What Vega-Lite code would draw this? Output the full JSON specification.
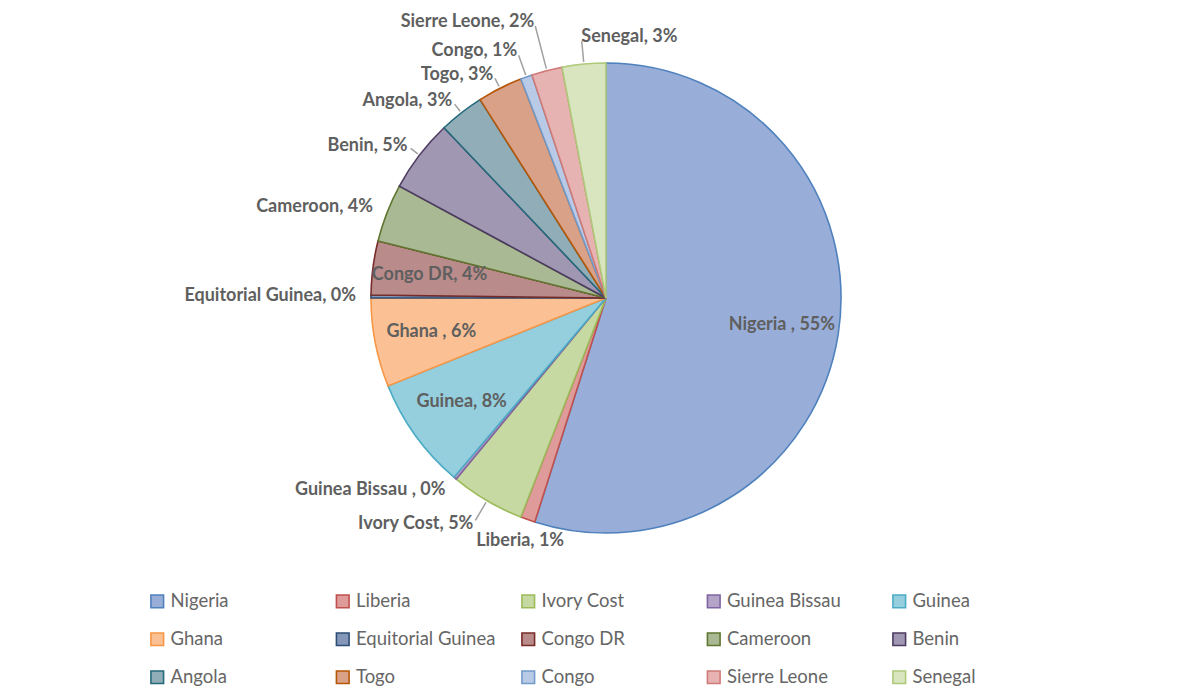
{
  "$schema": "https://vega.github.io/schema/vega-lite/v6.json",
  "autosize": {"type": "none"},
  "width": 1166,
  "height": 596,
  "padding": {"left": 23, "top": 0, "right": 0, "bottom": 101},
  "background": "white",
  "config": {
    "view": {"stroke": null},
    "font": "Lato",
    "legend": {
      "orient": "none",
      "legendX": 125,
      "legendY": 592,
      "direction": "horizontal",
      "columns": 5,
      "gridAlign": "all",
      "columnPadding": 22.5,
      "rowPadding": 18,
      "padding": 0,
      "symbolType": "square",
      "symbolSize": 160,
      "symbolStrokeWidth": 1.6,
      "labelFont": "Lato",
      "labelFontSize": 18.5,
      "labelColor": "#666666",
      "labelLimit": 300,
      "labelOffset": 4
    }
  },
  "data": {
    "values": [
      {"i": 1, "country": "Nigeria", "pct": 54.9, "label": "Nigeria , 55%"},
      {"i": 2, "country": "Liberia", "pct": 1.0, "label": "Liberia, 1%"},
      {"i": 3, "country": "Ivory Cost", "pct": 5.1, "label": "Ivory Cost, 5%"},
      {"i": 4, "country": "Guinea Bissau", "pct": 0.2, "label": "Guinea Bissau  , 0%"},
      {"i": 5, "country": "Guinea", "pct": 7.7, "label": "Guinea, 8%"},
      {"i": 6, "country": "Ghana", "pct": 6.1, "label": "Ghana , 6%"},
      {"i": 7, "country": "Equitorial Guinea", "pct": 0.2, "label": "Equitorial Guinea, 0%"},
      {"i": 8, "country": "Congo DR", "pct": 3.7, "label": "Congo DR, 4%"},
      {"i": 9, "country": "Cameroon", "pct": 4.0, "label": "Cameroon, 4%"},
      {"i": 10, "country": "Benin", "pct": 5.0, "label": "Benin, 5%"},
      {"i": 11, "country": "Angola", "pct": 3.1, "label": "Angola, 3%"},
      {"i": 12, "country": "Togo", "pct": 3.1, "label": "Togo, 3%"},
      {"i": 13, "country": "Congo", "pct": 0.8, "label": "Congo, 1%"},
      {"i": 14, "country": "Sierre Leone", "pct": 2.1, "label": "Sierre Leone, 2%"},
      {"i": 15, "country": "Senegal", "pct": 3.0, "label": "Senegal, 3%"}
    ]
  },
  "transform": [
    {"window": [{"op": "sum", "field": "pct", "as": "cum"}], "sort": [{"field": "i", "order": "ascending"}]},
    {"calculate": "datum.cum - datum.pct", "as": "start"},
    {"calculate": "datum.cum - datum.pct / 2", "as": "mid"}
  ],
  "layer": [
    {
      "mark": {"type": "arc", "outerRadius": 235, "strokeWidth": 1.6},
      "encoding": {
        "theta": {"field": "start", "type": "quantitative", "stack": null, "scale": {"domain": [0, 100]}},
        "theta2": {"field": "cum"},
        "fill": {
          "field": "country", "type": "nominal", "title": null,
          "scale": {
            "domain": ["Nigeria","Liberia","Ivory Cost","Guinea Bissau","Guinea","Ghana","Equitorial Guinea","Congo DR","Cameroon","Benin","Angola","Togo","Congo","Sierre Leone","Senegal"],
            "range": ["#98aed8","#de9b99","#c7d9a2","#b4a4c8","#95cedd","#fbc194","#8497b8","#b98c8b","#a9b994","#a098b2","#90adb8","#d9a288","#b9cae6","#e7b3b2","#d8e5bf"]
          }
        },
        "stroke": {
          "field": "country", "type": "nominal", "title": null,
          "scale": {
            "domain": ["Nigeria","Liberia","Ivory Cost","Guinea Bissau","Guinea","Ghana","Equitorial Guinea","Congo DR","Cameroon","Benin","Angola","Togo","Congo","Sierre Leone","Senegal"],
            "range": ["#4f81bd","#c0504d","#9bbb59","#8064a2","#4bacc6","#f79646","#2c4d75","#772c2a","#5f7530","#4d3b62","#276a7c","#b65708","#729aca","#d07a78","#afc97a"]
          }
        }
      }
    },
    {
      "transform": [{"filter": {"field": "country", "oneOf": ["Togo", "Angola", "Benin"]}}],
      "mark": {"type": "arc", "radius": 237, "radius2": 246, "stroke": "#a0a0a0", "strokeWidth": 1.5, "fillOpacity": 0},
      "encoding": {
        "theta": {"field": "mid", "type": "quantitative", "stack": null, "scale": {"domain": [0, 100]}},
        "theta2": {"field": "mid"}
      }
    },
    {
      "transform": [{"filter": {"field": "country", "oneOf": ["Congo", "Senegal", "Ivory Cost"]}}],
      "mark": {"type": "arc", "radius": 237, "radius2": 258, "stroke": "#a0a0a0", "strokeWidth": 1.5, "fillOpacity": 0},
      "encoding": {
        "theta": {"field": "mid", "type": "quantitative", "stack": null, "scale": {"domain": [0, 100]}},
        "theta2": {"field": "mid"}
      }
    },
    {
      "transform": [{"filter": {"field": "country", "oneOf": ["Sierre Leone"]}}],
      "mark": {"type": "arc", "radius": 237, "radius2": 281, "stroke": "#a0a0a0", "strokeWidth": 1.5, "fillOpacity": 0},
      "encoding": {
        "theta": {"field": "mid", "type": "quantitative", "stack": null, "scale": {"domain": [0, 100]}},
        "theta2": {"field": "mid"}
      }
    },
    {
      "transform": [{"filter": {"field": "country", "oneOf": ["Togo", "Angola", "Benin", "Cameroon", "Equitorial Guinea", "Guinea Bissau"]}}],
      "mark": {"type": "text", "radius": 250, "align": "right", "baseline": "middle", "font": "Lato", "fontSize": 18, "fontWeight": "bold", "fill": "#5f5f5f"},
      "encoding": {
        "theta": {"field": "mid", "type": "quantitative", "stack": null, "scale": {"domain": [0, 100]}},
        "text": {"field": "label"}
      }
    },
    {
      "transform": [{"filter": {"field": "country", "oneOf": ["Congo", "Ivory Cost"]}}],
      "mark": {"type": "text", "radius": 262, "align": "right", "baseline": "middle", "font": "Lato", "fontSize": 18, "fontWeight": "bold", "fill": "#5f5f5f"},
      "encoding": {
        "theta": {"field": "mid", "type": "quantitative", "stack": null, "scale": {"domain": [0, 100]}},
        "text": {"field": "label"}
      }
    },
    {
      "transform": [{"filter": {"field": "country", "oneOf": ["Sierre Leone"]}}],
      "mark": {"type": "text", "radius": 285, "align": "right", "baseline": "middle", "font": "Lato", "fontSize": 18, "fontWeight": "bold", "fill": "#5f5f5f"},
      "encoding": {
        "theta": {"field": "mid", "type": "quantitative", "stack": null, "scale": {"domain": [0, 100]}},
        "text": {"field": "label"}
      }
    },
    {
      "transform": [{"filter": {"field": "country", "oneOf": ["Senegal"]}}],
      "mark": {"type": "text", "radius": 262, "align": "left", "baseline": "middle", "font": "Lato", "fontSize": 18, "fontWeight": "bold", "fill": "#5f5f5f"},
      "encoding": {
        "theta": {"field": "mid", "type": "quantitative", "stack": null, "scale": {"domain": [0, 100]}},
        "text": {"field": "label"}
      }
    },
    {
      "transform": [{"filter": {"field": "country", "oneOf": ["Liberia"]}}],
      "mark": {"type": "text", "radius": 258, "align": "center", "baseline": "middle", "font": "Lato", "fontSize": 18, "fontWeight": "bold", "fill": "#5f5f5f"},
      "encoding": {
        "theta": {"field": "mid", "type": "quantitative", "stack": null, "scale": {"domain": [0, 100]}},
        "text": {"field": "label"}
      }
    },
    {
      "transform": [{"filter": {"field": "country", "oneOf": ["Nigeria", "Guinea", "Ghana", "Congo DR"]}}],
      "mark": {"type": "text", "radius": 178, "align": "center", "baseline": "middle", "font": "Lato", "fontSize": 18, "fontWeight": "bold", "fill": "#5f5f5f"},
      "encoding": {
        "theta": {"field": "mid", "type": "quantitative", "stack": null, "scale": {"domain": [0, 100]}},
        "text": {"field": "label"}
      }
    }
  ]
}
